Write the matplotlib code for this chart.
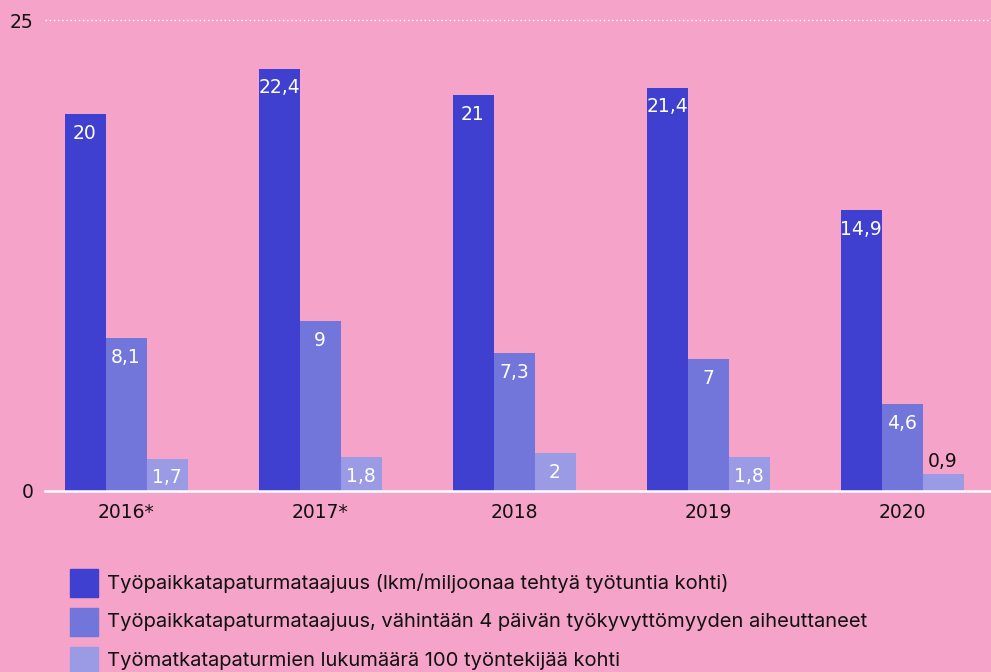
import numpy as np
import matplotlib.pyplot as plt
from matplotlib.patches import Rectangle

# data
years = ['2016*', '2017*', '2018', '2019', '2020']
taajuus = [20, 22.4, 21, 21.4, 14.9]
taajuus_4pv = [8.1, 9, 7.3, 7, 4.6]
tyomatka = [1.7, 1.8, 2, 1.8, 0.9]
series_names = [
    'Työpaikkatapaturmataajuus (lkm/miljoonaa tehtyä työtuntia kohti)',
    'Työpaikkatapaturmataajuus, vähintään 4 päivän työkyvyttömyyden aiheuttaneet',
    'Työmatkatapaturmien lukumäärä 100 työntekijää kohti',
]

bg = '#f5a3c8'
colors = ['#3f40cf', '#7276db', '#9b9ae5']

W, H = 991, 672
fig = plt.figure(figsize=(W / 100, H / 100), dpi=100, facecolor=bg)
# axes in pixel coords: left 45, right 991, top 20, bottom 491
ax = fig.add_axes([45 / W, 1 - 491 / H, (991 - 45) / W, (491 - 20) / H])
ax.set_facecolor(bg)

x = np.arange(len(years))
bw = 41 / 194
px_per_unit = (491 - 20) / 25

def fmt(v):
    return ('%g' % v).replace('.', ',')

for k, vals in enumerate([taajuus, taajuus_4pv, tyomatka]):
    pos = x + (k - 1) * bw
    ax.bar(pos, vals, width=bw, color=colors[k], zorder=2)
    for p, v in zip(pos, vals):
        if v * px_per_unit > 25:
            ax.text(p, v - 19 / px_per_unit, fmt(v), ha='center', va='center',
                    color='white', fontsize=13.5, zorder=3)
        else:
            ax.text(p, v + 13 / px_per_unit, fmt(v), ha='center', va='center',
                    color='#111111', fontsize=13.5, zorder=3)

ax.set_xlim(-81 / 194, (991 - 126) / 194)
ax.set_ylim(0, 25)
ax.set_yticks([0, 25])
ax.set_yticklabels(['0', '25'])
ax.set_xticks(x)
ax.set_xticklabels(years)
ax.tick_params(axis='both', length=0, labelsize=13.5, colors='#111111')
ax.tick_params(axis='y', pad=8.5)
ax.tick_params(axis='x', pad=9)
for s in ax.spines.values():
    s.set_visible(False)
ax.axhline(0, color='white', lw=1.8, zorder=4, clip_on=False)
ax.axhline(25, color='white', lw=1, ls=(0, (1, 2)), zorder=1, clip_on=False)

# legend
for i, name in enumerate(series_names):
    yc = 583 + i * 39
    fig.patches.append(Rectangle((70 / W, 1 - (yc + 14) / H), 28 / W, 28 / H,
                                 transform=fig.transFigure, color=colors[i]))
    fig.text(107 / W, 1 - yc / H, name, fontsize=14.5, va='center',
             color='#111111', family=['Inter', 'DejaVu Sans'])

fig.savefig('out.png', dpi=100, facecolor=bg)
